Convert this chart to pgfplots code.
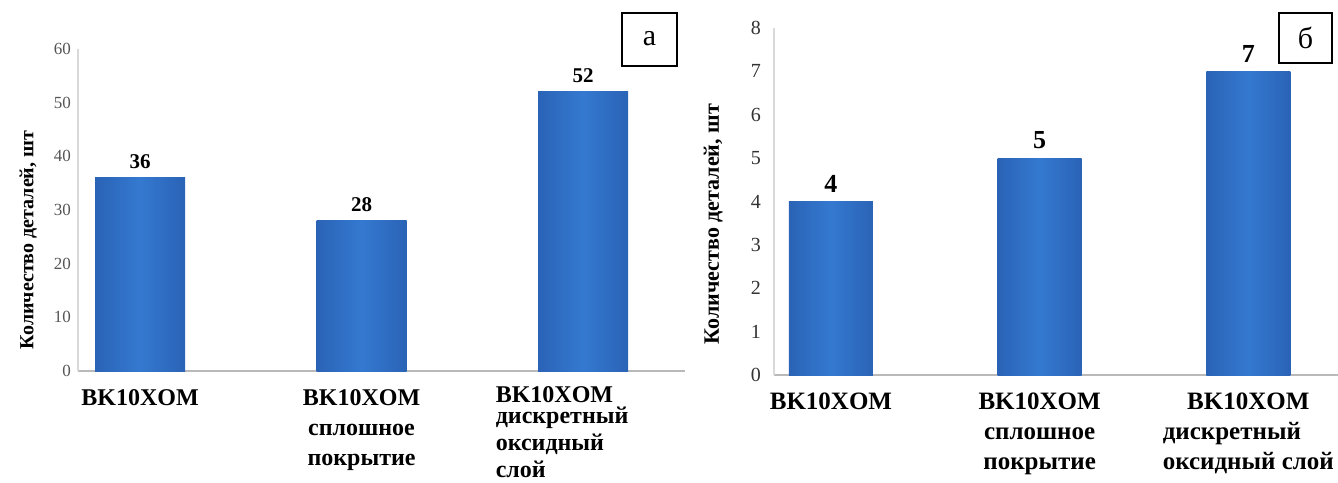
\documentclass[border=0pt]{standalone}
\usepackage{fontspec}
\setmainfont{Liberation Serif}
\usepackage{pgfplots}
\pgfplotsset{compat=1.18}

\definecolor{barmid}{HTML}{3479D0}
\definecolor{baredge}{HTML}{2A63B6}
\definecolor{tickgray}{HTML}{555555}

\pgfplotsset{
  panel/.style={
    scale only axis,
    axis lines=left,
    axis line style={-},
    x axis line style={draw=gray!55, line width=1.2pt},
    y axis line style={draw=gray!30, line width=0.8pt},
    major tick length=0pt,
    xtick={0,1,2},
    ymin=0,
    /pgf/number format/assume math mode=true,
    xticklabel style={anchor=north, yshift=-3pt},
    clip=false,
  },
  % one bar per plot so that each bar carries its own shading
  bars/.style={
    ybar, bar shift=0pt, draw=none,
    left color=baredge, right color=baredge, middle color=barmid,
    nodes near coords,
  },
}

\begin{document}
\begin{tikzpicture}
\useasboundingbox (0,0) rectangle (669pt,241pt);

% panel a
\begin{axis}[panel,
  at={(39pt,55.5pt)}, anchor=south west,
  width=303.5pt, height=161pt,
  xmin=-0.28, xmax=2.46, ymax=60, ytick={0,10,...,60},
  yticklabel style={font=\fontsize{8.5}{8.5}\selectfont, text=tickgray},
  ylabel={\bfseries\fontsize{10}{10}\selectfont Количество деталей, шт},
  ylabel style={at={(axis description cs:-0.082,0.407)}, anchor=center, rotate=0},
  xticklabels={
    {\fontsize{12}{15}\selectfont\bfseries\begin{tabular}{@{}c@{}}BK10XOM\end{tabular}},
    {\fontsize{12}{15}\selectfont\bfseries\begin{tabular}{@{}c@{}}BK10XOM\\сплошное\\покрытие\end{tabular}},
    {\fontsize{12}{13.5}\selectfont\bfseries\begin{tabular}{@{}l@{}}BK10XOM\\[-3pt]дискретный\hspace*{21pt}\\оксидный\\слой\end{tabular}}},
  every node near coord/.append style={font=\bfseries\fontsize{10.5}{10.5}\selectfont, text=black, yshift=1pt},
]
\addplot[bars, bar width=45pt] coordinates {(0,36)};
\addplot[bars, bar width=45pt] coordinates {(1,28)};
\addplot[bars, bar width=45pt] coordinates {(2,52)};
\end{axis}
\draw[black, line width=0.6pt] (311pt,208pt) rectangle (338.5pt,234.5pt);
\node[font=\fontsize{15}{15}\selectfont] at (324.75pt,221.5pt) {а};

% panel b
\begin{axis}[panel,
  at={(387pt,53.5pt)}, anchor=south west,
  width=282pt, height=173.5pt,
  xmin=-0.273, xmax=2.43, ymax=8, ytick={0,1,...,8},
  yticklabel style={font=\fontsize{10}{10}\selectfont, text=black!80, xshift=-3pt},
  ylabel={\bfseries\fontsize{11}{11}\selectfont Количество деталей, шт},
  ylabel style={at={(axis description cs:-0.108,0.435)}, anchor=center, rotate=0},
  xticklabels={
    {\fontsize{12.5}{15}\selectfont\bfseries\begin{tabular}{@{}c@{}}BK10XOM\end{tabular}},
    {\fontsize{12.5}{15}\selectfont\bfseries\begin{tabular}{@{}c@{}}BK10XOM\\сплошное\\покрытие\end{tabular}},
    {\fontsize{12.5}{15}\selectfont\bfseries\begin{tabular}{@{}l@{}}\multicolumn{1}{@{}c@{}}{BK10XOM}\\дискретный\\оксидный слой\end{tabular}}},
  every node near coord/.append style={font=\bfseries\fontsize{13}{13}\selectfont, text=black, yshift=1pt},
]
\addplot[bars, bar width=42pt] coordinates {(0,4)};
\addplot[bars, bar width=42pt] coordinates {(1,5)};
\addplot[bars, bar width=42pt] coordinates {(2,7)};
\end{axis}
\draw[black, line width=0.6pt] (639.5pt,209.5pt) rectangle (666pt,234.5pt);
\node[font=\fontsize{15}{15}\selectfont] at (652.75pt,222pt) {б};
\end{tikzpicture}
\end{document}
